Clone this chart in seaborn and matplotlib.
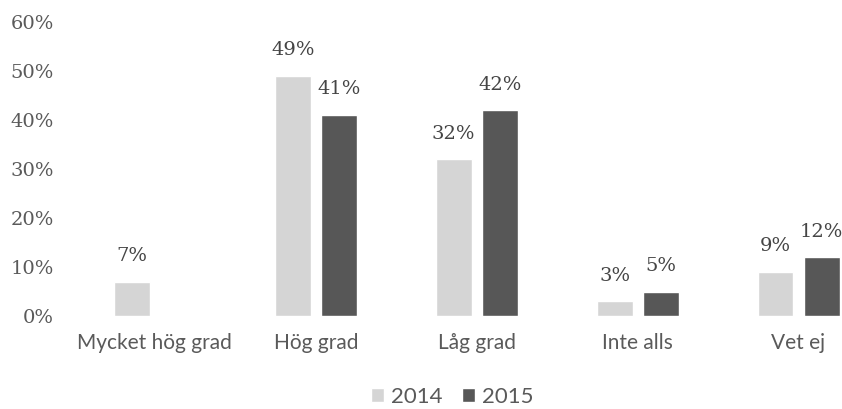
import numpy as np
import pandas as pd
import seaborn as sns
import matplotlib.pyplot as plt

categories = ["Mycket hög grad", "Hög grad", "Låg grad", "Inte alls", "Vet ej"]
years = ["2014", "2015"]
values_2014 = [7, 49, 32, 3, 9]
values_2015 = [np.nan, 41, 42, 5, 12]
colors = {"2014": "#d5d5d5", "2015": "#575757"}

df = pd.DataFrame({
    "kategori": categories * 2,
    "år": ["2014"] * len(categories) + ["2015"] * len(categories),
    "andel": values_2014 + values_2015,
})

sns.set_style("white")
serif = ["DejaVu Serif"]
sans = ["Lato", "DejaVu Sans"]

fig = plt.figure(figsize=(8.42, 4.09), dpi=100)
ax = fig.add_axes([76 / 842, 1 - 316 / 409, (842 - 76) / 842, (316 - 22) / 409])

sns.barplot(
    data=df, x="kategori", y="andel", hue="år", hue_order=years,
    palette=colors, width=0.572, gap=0.22, ax=ax, legend=True,
)

for cont in ax.containers:
    labels = ["" if np.isnan(v) else f"{v:.0f}%" for v in cont.datavalues]
    ax.bar_label(cont, labels=labels, padding=12, fontsize=14,
                 color="#454545", family=serif)

ax.set_ylim(0, 60)
ax.set_xlim(-0.49, 4.27)
ax.set_yticks(range(0, 61, 10))
ax.set_yticklabels([f"{t}%" for t in range(0, 61, 10)], family=serif,
                   fontsize=14, color="#5a5a5a")
ax.set_xticks(range(len(categories)))
ax.set_xticklabels(categories, family=sans, fontsize=15, color="#5a5a5a")
ax.tick_params(axis="both", length=0)
ax.tick_params(axis="x", pad=12)
ax.tick_params(axis="y", pad=16)
ax.set_xlabel("")
ax.set_ylabel("")
sns.despine(ax=ax, left=True, bottom=True)

handles, labels = ax.get_legend_handles_labels()
ax.legend(handles, labels, loc="center", bbox_to_anchor=(452 / 842, 1 - 397 / 409),
          bbox_transform=fig.transFigure, ncol=2, frameon=False,
          handlelength=0.6, handleheight=0.6, handletextpad=0.3, columnspacing=0.9,
          prop={"family": sans, "size": 16}, labelcolor="#5a5a5a")

fig.savefig("out.png", dpi=100)
